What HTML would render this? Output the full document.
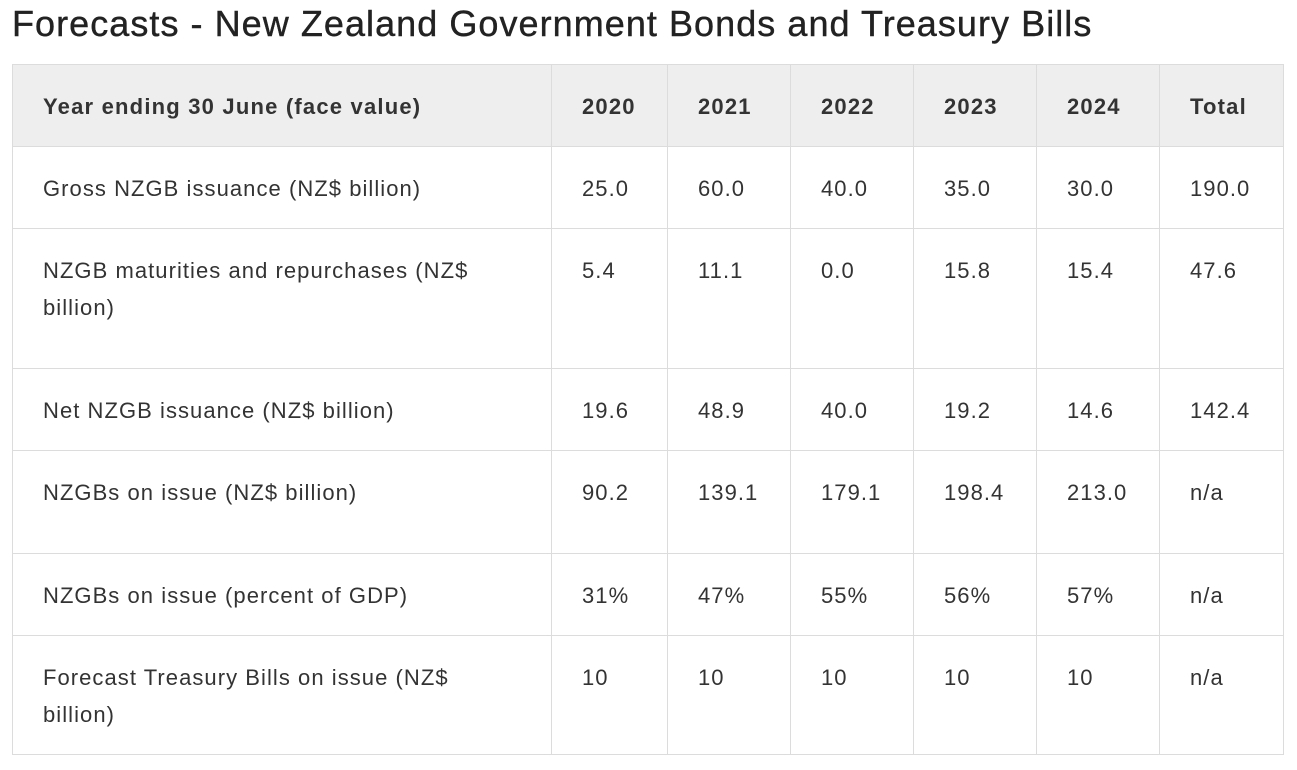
<!DOCTYPE html>
<html><head><meta charset="utf-8"><style>
body{margin:0;background:#fff;width:1297px;height:770px;overflow:hidden;font-family:"Liberation Sans",sans-serif;color:#333}
h1{position:absolute;left:12px;top:0;margin:0;font-size:36px;font-weight:normal;color:#222;line-height:48px;letter-spacing:1.05px;-webkit-text-stroke:0.4px #222}
table{position:absolute;left:12px;top:64px;border-collapse:collapse;table-layout:fixed;width:1271px}
td,th{border:1px solid #dcdcdc;vertical-align:top;padding:23px 4px 0 30px;font-size:22px;line-height:37px;text-align:left;box-sizing:border-box;letter-spacing:1.05px;white-space:nowrap}
th{background:#eeeeee;font-weight:bold;color:#333;height:82px;letter-spacing:1.2px}
</style></head><body>
<h1>Forecasts - New Zealand Government Bonds and Treasury Bills</h1>
<table>
<colgroup><col style="width:539px"><col style="width:116px"><col style="width:123px"><col style="width:123px"><col style="width:123px"><col style="width:123px"><col style="width:124px"></colgroup>
<tr><th>Year ending 30 June (face value)</th><th>2020</th><th>2021</th><th>2022</th><th>2023</th><th>2024</th><th>Total</th></tr>
<tr style="height:82px"><td>Gross NZGB issuance (NZ$ billion)</td><td>25.0</td><td>60.0</td><td>40.0</td><td>35.0</td><td>30.0</td><td>190.0</td></tr>
<tr style="height:140px"><td>NZGB maturities and repurchases (NZ$<br>billion)</td><td>5.4</td><td>11.1</td><td>0.0</td><td>15.8</td><td>15.4</td><td>47.6</td></tr>
<tr style="height:82px"><td>Net NZGB issuance (NZ$ billion)</td><td>19.6</td><td>48.9</td><td>40.0</td><td>19.2</td><td>14.6</td><td>142.4</td></tr>
<tr style="height:103px"><td>NZGBs on issue (NZ$ billion)</td><td>90.2</td><td>139.1</td><td>179.1</td><td>198.4</td><td>213.0</td><td>n/a</td></tr>
<tr style="height:82px"><td>NZGBs on issue (percent of GDP)</td><td>31%</td><td>47%</td><td>55%</td><td>56%</td><td>57%</td><td>n/a</td></tr>
<tr style="height:119px"><td>Forecast Treasury Bills on issue (NZ$<br>billion)</td><td>10</td><td>10</td><td>10</td><td>10</td><td>10</td><td>n/a</td></tr>
</table>
</body></html>
